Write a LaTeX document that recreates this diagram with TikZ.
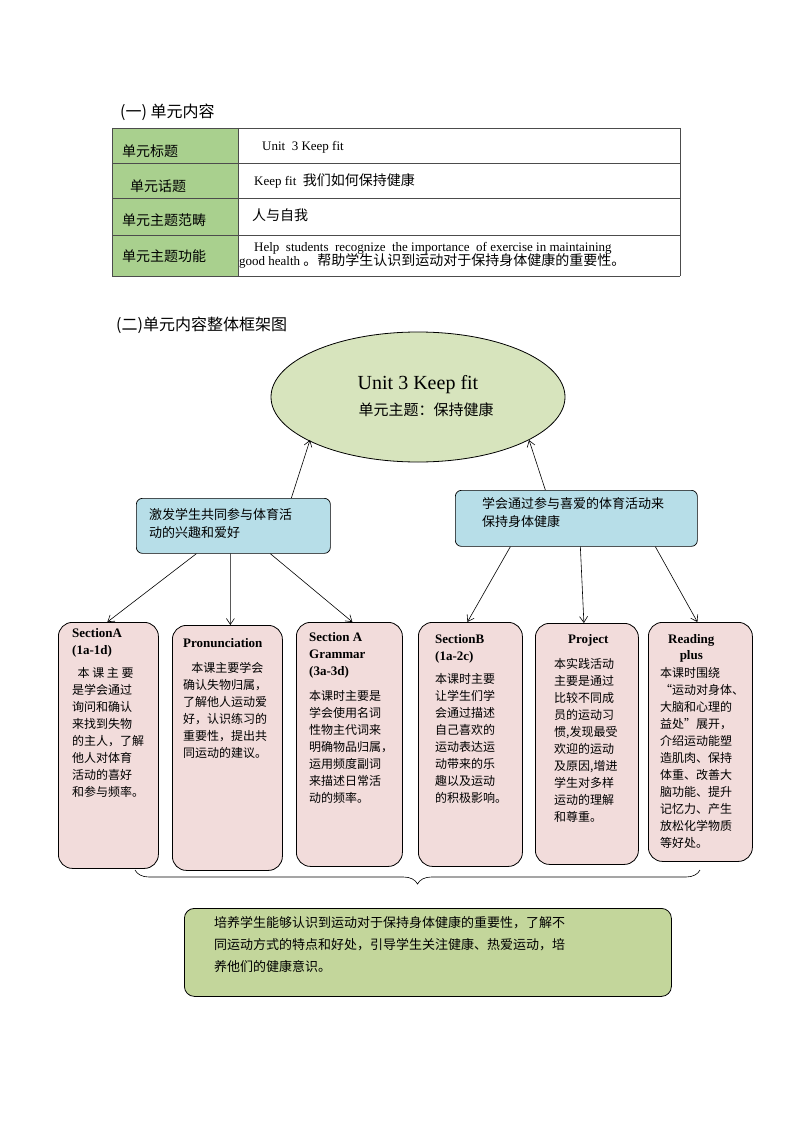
\documentclass[tikz,border=0pt]{standalone}
\usepackage{fontspec}
\setmainfont{Liberation Serif}
\newfontfamily\cjk{Noto Sans CJK SC}
\usetikzlibrary{decorations.pathreplacing,arrows.meta,shapes.geometric}
\definecolor{tgreen}{HTML}{A9D08E}
\definecolor{egreen}{HTML}{D7E4BD}
\definecolor{bblue}{HTML}{B7DEE8}
\definecolor{pinkf}{HTML}{F2DCDB}
\definecolor{bgreen}{HTML}{C3D69B}
\tikzset{
 cell/.style={draw=black!70,line width=0.6pt},
 lbl/.style={anchor=west,font=\cjk\fontsize{14}{16}\selectfont,inner sep=0},
 goal/.style={draw,fill=bblue,rounded corners=6pt,line width=0.7pt},
 lesson/.style={draw,fill=pinkf,rounded corners=14pt,line width=0.8pt},
 ltext/.style={anchor=north west,align=left,inner sep=0,font=\fontsize{12}{17}\selectfont},
 arr/.style={-{Straight Barb[length=6pt,width=8pt]},line width=0.6pt},
}
\begin{document}
\begin{tikzpicture}[x=1pt,y=-1pt]
\useasboundingbox (0,0) rectangle (794,1123);
\node[lbl,font=\cjk\fontsize{16}{18}\selectfont] (h1) at (120,112) {(一) 单元内容};
% table
\fill[tgreen] (112,128) rectangle (238,276);
\foreach \y in {128,163,198,235,276} \draw[cell] (112,\y) -- (680,\y);
\draw[cell] (112,128) -- (112,276) (238,128)--(238,276) (680,128)--(680,276);
\node[lbl] (r1) at (122,151) {单元标题};
\node[lbl] (r2) at (130,186) {单元话题};
\node[lbl] (r3) at (122,220) {单元主题范畴};
\node[lbl] (r4) at (122,256) {单元主题功能};
\node[anchor=west,inner sep=0,font=\fontsize{13}{15}\selectfont] (v1) at (262,147) {Unit\ \ 3 Keep fit};
\node[anchor=west,inner sep=0,font=\fontsize{13}{15}\selectfont] (v2) at (254,181) {Keep fit\ \ {\cjk\fontsize{14}{16}\selectfont 我们如何保持健康}};
\node[lbl] (v3) at (252,215) {人与自我};
\node[anchor=north west,inner sep=0,align=justify,text width=430,font=\fontsize{13}{15}\selectfont] (v4) at (239,242) {\hspace*{15pt}Help\ \ students\ \ recognize\ \ the importance\ \ of exercise in maintaining\\[-1pt]good health {\cjk\fontsize{14}{16}\selectfont 。帮助学生认识到运动对于保持身体健康的重要性。}};
\node[lbl,font=\cjk\fontsize{16}{18}\selectfont] (h2) at (116,325) {(二)单元内容整体框架图};
% ellipse
\node[draw,fill=egreen,ellipse,minimum width=294,minimum height=130,line width=0.8pt,align=center] (el) at (418,397) {};
\node[font=\fontsize{20}{22}\selectfont] (t1) at (418,385) {Unit 3 Keep fit};
\node[font=\cjk\fontsize{15}{17}\selectfont] (t2) at (426,410) {单元主题：保持健康};
% goal boxes
\node[goal,minimum width=194,minimum height=55,anchor=north west] (g1) at (136,498) {};
\node[anchor=north west,inner sep=0,align=left,font=\cjk\fontsize{13}{18}\selectfont] (g1t) at (149,508) {激发学生共同参与体育活\\动的兴趣和爱好};
\node[goal,minimum width=242,minimum height=56,anchor=north west] (g2) at (455,490) {};
\node[anchor=north west,inner sep=0,align=left,font=\cjk\fontsize{13}{18}\selectfont] (g2t) at (482,497) {学会通过参与喜爱的体育活动来\\保持身体健康};
\coordinate (e1) at (310,440);
\coordinate (e2) at (529,440);
\draw[arr] ([xshift=58pt]g1.north) -- (e1);
\draw[arr] ([xshift=-31pt]g2.north) -- (e2);
% lessons
\node[lesson,minimum width=100,minimum height=246,anchor=north west] (b1) at (58,622) {};
\node[lesson,minimum width=110,minimum height=245,anchor=north west] (b2) at (172,625) {};
\node[lesson,minimum width=106,minimum height=244,anchor=north west] (b3) at (296,622) {};
\node[lesson,minimum width=104,minimum height=244,anchor=north west] (b4) at (418,622) {};
\node[lesson,minimum width=103,minimum height=241,anchor=north west] (b5) at (535,623) {};
\node[lesson,minimum width=104,minimum height=239,anchor=north west] (b6) at (648,622) {};
\draw[arr] ([xshift=-37pt]g1.south) -- ([xshift=-1pt]b1.north);
\draw[arr] ([xshift=-3pt]g1.south) -- ([xshift=3pt]b2.north);
\draw[arr] ([xshift=37pt]g1.south) -- ([xshift=3pt]b3.north);
\draw[arr] ([xshift=-66pt]g2.south) -- ([xshift=-3pt]b4.north);
\draw[arr] ([xshift=4pt]g2.south) -- ([xshift=-3pt]b5.north);
\draw[arr] ([xshift=79pt]g2.south) -- ([xshift=-3pt]b6.north);
\node[ltext] (b1t) at (72,628) {\textbf{\fontsize{13}{17}\selectfont SectionA}\\\textbf{\fontsize{13}{17}\selectfont (1a-1d)}\\[6pt]{\cjk\ \ 本 课 主 要}\\{\cjk 是学会通过}\\{\cjk 询问和确认}\\{\cjk 来找到失物}\\{\cjk 的主人，了解}\\{\cjk 他人对体育}\\{\cjk 活动的喜好}\\{\cjk 和参与频率。}};
\node[ltext] (b2t) at (183,638) {\textbf{\fontsize{13}{17}\selectfont Pronunciation}\\[8pt]{\cjk\ \ \ 本课主要学会}\\{\cjk 确认失物归属，}\\{\cjk 了解他人运动爱}\\{\cjk 好，认识练习的}\\{\cjk 重要性，提出共}\\{\cjk 同运动的建议。}};
\node[ltext] (b3t) at (309,632) {\textbf{\fontsize{13}{16}\selectfont Section A}\\\textbf{\fontsize{13}{16}\selectfont Grammar}\\\textbf{\fontsize{13}{16}\selectfont (3a-3d)}\\[8pt]{\cjk 本课时主要是}\\{\cjk 学会使用名词}\\{\cjk 性物主代词来}\\{\cjk 明确物品归属，}\\{\cjk 运用频度副词}\\{\cjk 来描述日常活}\\{\cjk 动的频率。}};
\node[ltext] (b4t) at (435,634) {\textbf{\fontsize{13}{17}\selectfont SectionB}\\\textbf{\fontsize{13}{17}\selectfont (1a-2c)}\\[6pt]{\cjk 本课时主要}\\{\cjk 让学生们学}\\{\cjk 会通过描述}\\{\cjk 自己喜欢的}\\{\cjk 运动表达运}\\{\cjk 动带来的乐}\\{\cjk 趣以及运动}\\{\cjk 的积极影响。}};
\node[ltext,font=\bfseries\fontsize{13}{17}\selectfont] (b5h) at (568,634) {Project};
\node[ltext] (b5t) at (554,658) {{\cjk 本实践活动}\\{\cjk 主要是通过}\\{\cjk 比较不同成}\\{\cjk 员的运动习}\\{\cjk 惯,发现最受}\\{\cjk 欢迎的运动}\\{\cjk 及原因,增进}\\{\cjk 学生对多样}\\{\cjk 运动的理解}\\{\cjk 和尊重。}};
\node[ltext,font=\bfseries\fontsize{13}{16}\selectfont,align=center] (b6h) at (668,634) {Reading\\plus};
\node[ltext] (b6t) at (660,667) {{\cjk 本课时围绕}\\{\cjk “运动对身体、}\\{\cjk 大脑和心理的}\\{\cjk 益处”展开，}\\{\cjk 介绍运动能塑}\\{\cjk 造肌肉、保持}\\{\cjk 体重、改善大}\\{\cjk 脑功能、提升}\\{\cjk 记忆力、产生}\\{\cjk 放松化学物质}\\{\cjk 等好处。}};
% brace
\coordinate (brL) at (135,870);
\coordinate (brR) at (700,870);
\draw[decorate,decoration={brace,mirror,amplitude=14pt},line width=0.6pt] (brL) -- (brR);
% bottom box
\node[draw,fill=bgreen,rounded corners=10pt,line width=0.8pt,minimum width=487,minimum height=88,anchor=north west] (bt) at (184,908) {};
\node[anchor=north west,inner sep=0,align=left,font=\cjk\fontsize{13}{22}\selectfont] (btt) at (214,916) {培养学生能够认识到运动对于保持身体健康的重要性，了解不\\同运动方式的特点和好处，引导学生关注健康、热爱运动，培\\养他们的健康意识。};
\end{tikzpicture}
\end{document}
